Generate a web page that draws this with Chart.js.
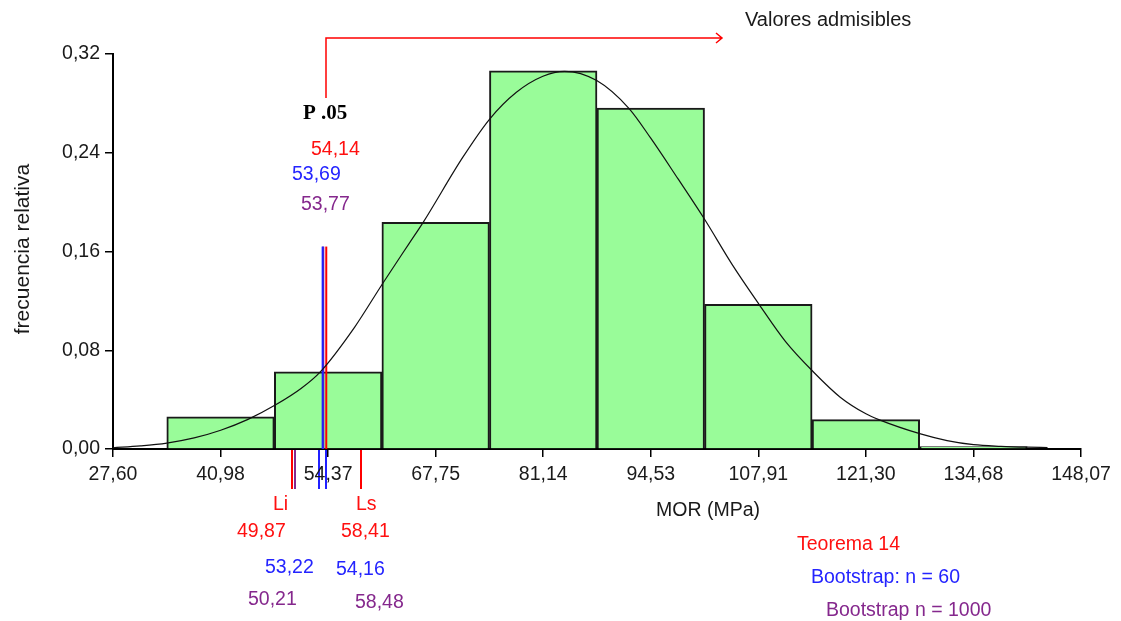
<!DOCTYPE html>
<html>
<head>
<meta charset="utf-8">
<script src="https://cdn.jsdelivr.net/npm/chart.js@4.4.1/dist/chart.umd.min.js"></script>
<style>
  html, body { margin: 0; padding: 0; background: #fff; }
  canvas { display: block; }
</style>
</head>
<body>
<canvas id="hist" width="1121" height="621"></canvas>
<script>
// MOR histogram (relative frequency) with fitted normal curve
const xTicks = [27.6, 40.985, 54.37, 67.755, 81.14, 94.525, 107.91, 121.295, 134.68, 148.065];
const xTickLabels = ["27,60", "40,98", "54,37", "67,75", "81,14", "94,53", "107,91", "121,30", "134,68", "148,07"];
const yTicks = [0, 0.08, 0.16, 0.24, 0.32];

const binCenters = [40.985, 54.37, 67.755, 81.14, 94.525, 107.91, 121.295, 134.68];
const binFreq = [0.026, 0.0625, 0.1836, 0.3063, 0.2762, 0.1172, 0.0238, 0.002];

const curveX = [27.6, 31.0, 34.3, 37.7, 41.0, 44.4, 47.9, 51.0, 53.4, 57.7, 61.1, 64.4, 66.2, 71.1,
  74.5, 77.8, 81.1, 83.8, 87.8, 91.8, 94.5, 97.9, 101.2, 104.6, 108.0, 111.3, 114.8, 118.1,
  121.3, 122.9, 128.1, 131.4, 134.7, 138.1, 141.4, 143.9];
const curveY = [0.001, 0.0025, 0.0048, 0.009, 0.0152, 0.024, 0.036, 0.049, 0.0625, 0.099, 0.1335, 0.166, 0.1836, 0.236,
  0.2675, 0.289, 0.302, 0.306, 0.2985, 0.276, 0.252, 0.219, 0.1863, 0.15, 0.1172, 0.087, 0.0622, 0.042,
  0.0285, 0.0238, 0.0122, 0.0068, 0.0035, 0.0022, 0.0015, 0.0012];

// order: Teorema 14, Bootstrap n = 60, Bootstrap n = 1000
const methods = ["Teorema 14", "Bootstrap: n = 60", "Bootstrap n = 1000"];
const p05 = [54.14, 53.69, 53.77];
const li = [49.87, 53.22, 50.21];
const ls = [58.41, 54.16, 58.48];
const p05LineTop = 0.164;

const lineColors = ["#ff0000", "#2020ff", "#85288d"];
const textColors = ["#ff1010", "#2424ff", "#85288d"];
const sans = "'Liberation Sans', Arial, sans-serif";
const fmt = (v) => v.toFixed(2).replace(".", ",");

const annotations = {
  id: "annotations",
  beforeDraw(chart) {
    // Li / Ls marks hanging under the axis, kept behind the tick labels
    const { ctx, chartArea } = chart;
    const x = chart.scales.x;
    const base = chartArea.bottom;
    ctx.save();
    ctx.lineWidth = 2;
    [1, 2, 0].forEach((i) => {
      [li[i], ls[i]].forEach((v) => {
        const px = Math.round(x.getPixelForValue(v));
        ctx.strokeStyle = lineColors[i];
        ctx.beginPath();
        ctx.moveTo(px, base + 1);
        ctx.lineTo(px, base + 40);
        ctx.stroke();
      });
    });
    ctx.restore();
  },
  afterDatasetsDraw(chart) {
    const { ctx } = chart;
    const x = chart.scales.x;
    ctx.save();

    // bracket arrow from the P .05 line
    const ax = Math.round(x.getPixelForValue(p05[0]));
    ctx.strokeStyle = "#ff0000";
    ctx.lineWidth = 1.5;
    ctx.beginPath();
    ctx.moveTo(ax, 98);
    ctx.lineTo(ax, 38);
    ctx.lineTo(722, 38);
    ctx.moveTo(716, 33);
    ctx.lineTo(722, 38);
    ctx.lineTo(716, 43);
    ctx.stroke();

    ctx.textBaseline = "alphabetic";
    ctx.textAlign = "left";
    const put = (txt, px, py, color, font) => {
      ctx.fillStyle = color;
      ctx.font = font || "19.5px " + sans;
      ctx.fillText(txt, px, py);
    };

    put("Valores admisibles", 745, 26, "#1a1a1a", "20px " + sans);
    put("P .05", 303, 119, "#000", "bold 21px 'Liberation Serif', 'Times New Roman', serif");

    put(fmt(p05[0]), 311, 155, textColors[0]);
    put(fmt(p05[1]), 292, 180, textColors[1]);
    put(fmt(p05[2]), 301, 210, textColors[2]);

    put("Li", 273, 510, textColors[0]);
    put("Ls", 356, 510, textColors[0]);
    put(fmt(li[0]), 237, 537, textColors[0]);
    put(fmt(ls[0]), 341, 537, textColors[0]);
    put(fmt(li[1]), 265, 573, textColors[1]);
    put(fmt(ls[1]), 336, 575, textColors[1]);
    put(fmt(li[2]), 248, 605, textColors[2]);
    put(fmt(ls[2]), 355, 608, textColors[2]);

    put("MOR (MPa)", 656, 516, "#1a1a1a");
    put(methods[0], 797, 550, textColors[0]);
    put(methods[1], 811, 583, textColors[1]);
    put(methods[2], 826, 616, textColors[2]);

    // y axis title
    ctx.save();
    ctx.translate(29, 249);
    ctx.rotate(-Math.PI / 2);
    ctx.textAlign = "center";
    put("frecuencia relativa", 0, 0, "#1a1a1a", "21px " + sans);
    ctx.restore();

    ctx.restore();
  },
};

const p05Sets = [1, 2, 0].map((i) => ({
  type: "line",
  data: [{ x: p05[i], y: 0 }, { x: p05[i], y: p05LineTop }],
  borderColor: lineColors[i],
  borderWidth: 2,
  pointRadius: 0,
  order: 1,
}));

new Chart(document.getElementById("hist"), {
  type: "bar",
  data: {
    datasets: [
      {
        type: "line",
        data: curveX.map((v, i) => ({ x: v, y: curveY[i] })),
        borderColor: "#111",
        borderWidth: 1.2,
        pointRadius: 0,
        cubicInterpolationMode: "monotone",
        order: 0,
      },
      ...p05Sets,
      {
        type: "bar",
        data: binCenters.map((v, i) => ({ x: v, y: binFreq[i] })),
        backgroundColor: "#99fc99",
        borderColor: "#1a1a1a",
        borderWidth: 2,
        barPercentage: 1,
        categoryPercentage: 1,
        order: 3,
      },
    ],
  },
  options: {
    responsive: false,
    animation: false,
    devicePixelRatio: 1,
    layout: { padding: { top: 54, right: 40, left: 0, bottom: 0 } },
    plugins: { legend: { display: false }, tooltip: { enabled: false } },
    scales: {
      x: {
        type: "linear",
        offset: false,
        min: xTicks[0],
        max: xTicks[xTicks.length - 1],
        afterBuildTicks: (scale) => {
          scale.ticks = xTicks.map((v) => ({ value: v }));
        },
        afterFit: (scale) => {
          scale.height = 172;
        },
        ticks: {
          autoSkip: false,
          maxRotation: 0,
          padding: 6,
          color: "#1a1a1a",
          font: { family: sans, size: 19.5 },
          callback: (v, i) => xTickLabels[i],
        },
        grid: { offset: false, drawOnChartArea: false, drawTicks: true, tickLength: 8, color: "#000", lineWidth: 1.5 },
        border: { color: "#000", width: 2 },
      },
      y: {
        min: 0,
        max: 0.32,
        afterBuildTicks: (scale) => {
          scale.ticks = yTicks.map((v) => ({ value: v }));
        },
        afterFit: (scale) => {
          scale.width = 113;
        },
        ticks: {
          padding: 5,
          color: "#1a1a1a",
          font: { family: sans, size: 19.5 },
          callback: (v) => v.toFixed(2).replace(".", ","),
        },
        grid: { drawOnChartArea: false, drawTicks: true, tickLength: 8, color: "#000", lineWidth: 1.5 },
        border: { color: "#000", width: 2 },
      },
    },
  },
  plugins: [annotations],
});
</script>
</body>
</html>
